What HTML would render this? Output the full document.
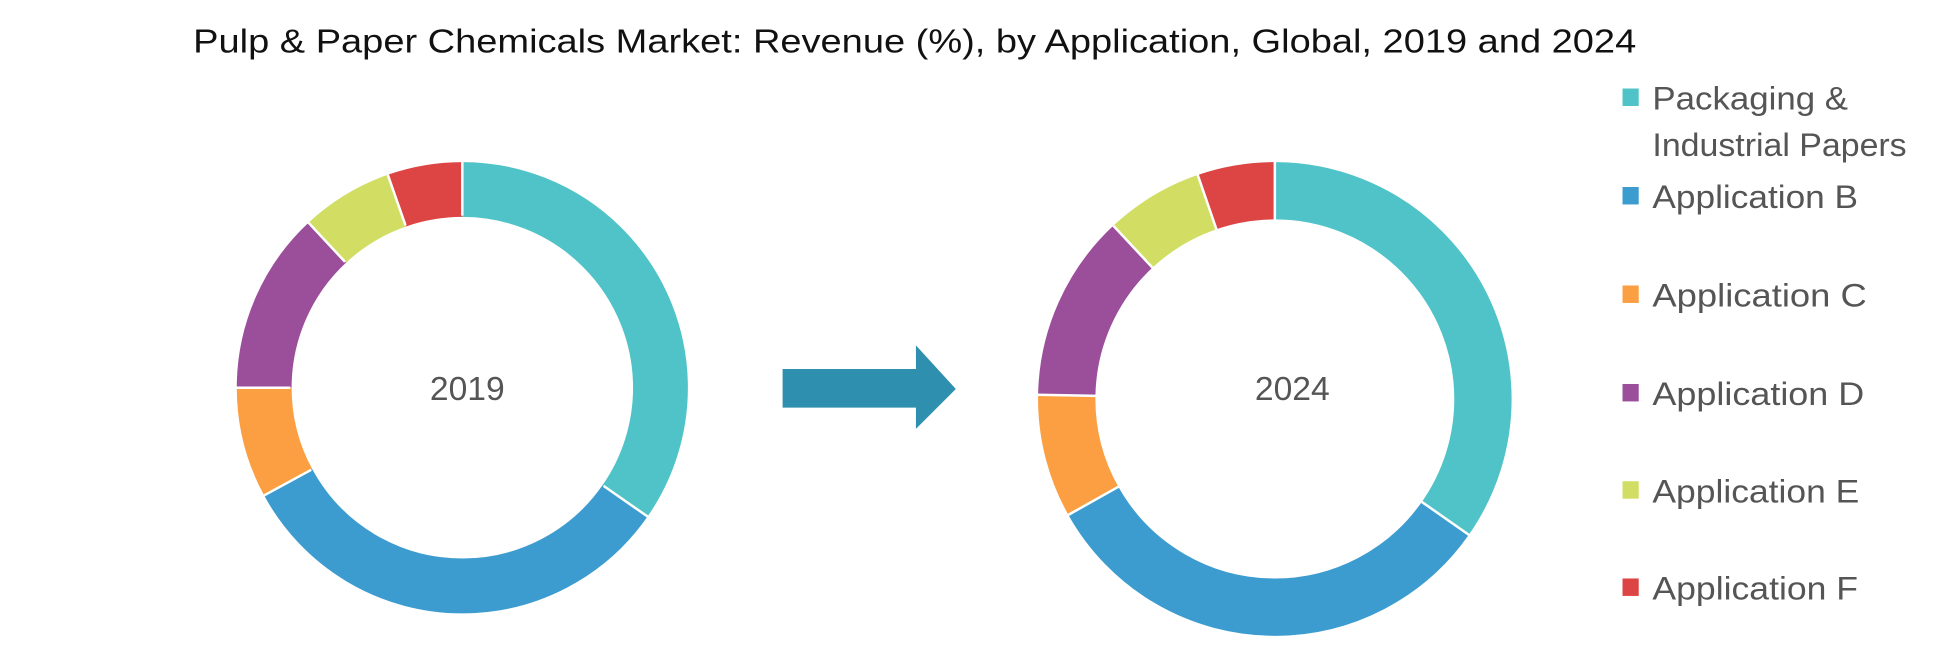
<!DOCTYPE html>
<html><head><meta charset="utf-8"><style>
html,body{margin:0;padding:0;background:#fff;}
svg{display:block}
text{font-family:"Liberation Sans",sans-serif;}
</style></head><body>
<svg width="1954" height="662" viewBox="0 0 1568 531" preserveAspectRatio="none" xmlns="http://www.w3.org/2000/svg">
<text x="155" y="42" font-size="27" fill="#111" textLength="1158" lengthAdjust="spacingAndGlyphs">Pulp &amp; Paper Chemicals Market: Revenue (%), by Application, Global, 2019 and 2024</text>

<g transform="rotate(-90 371 311)" fill="none" stroke-width="44">
<circle cx="371" cy="311" r="159" stroke="#50c3c8" stroke-dasharray="346.3 2000" stroke-dashoffset="0"/>
<circle cx="371" cy="311" r="159" stroke="#3d9ccf" stroke-dasharray="323.8 2000" stroke-dashoffset="-346.3"/>
<circle cx="371" cy="311" r="159" stroke="#fb9f42" stroke-dasharray="79.1 2000" stroke-dashoffset="-670.2"/>
<circle cx="371" cy="311" r="159" stroke="#9b4f9b" stroke-dasharray="130.4 2000" stroke-dashoffset="-749.3"/>
<circle cx="371" cy="311" r="159" stroke="#d1de63" stroke-dasharray="65.8 2000" stroke-dashoffset="-879.7"/>
<circle cx="371" cy="311" r="159" stroke="#dd4444" stroke-dasharray="53.6 2000" stroke-dashoffset="-945.5"/>
</g>
<g stroke="#fff" stroke-width="2">
<line x1="371" y1="173" x2="371" y2="127" transform="rotate(0 371 311)"/>
<line x1="371" y1="173" x2="371" y2="127" transform="rotate(124.8 371 311)"/>
<line x1="371" y1="173" x2="371" y2="127" transform="rotate(241.5 371 311)"/>
<line x1="371" y1="173" x2="371" y2="127" transform="rotate(270 371 311)"/>
<line x1="371" y1="173" x2="371" y2="127" transform="rotate(317 371 311)"/>
<line x1="371" y1="173" x2="371" y2="127" transform="rotate(340.7 371 311)"/>
</g>
<text x="375" y="321" font-size="27" fill="#555" text-anchor="middle">2019</text>

<g transform="rotate(-90 1023 320)" fill="none" stroke-width="46">
<circle cx="1023" cy="320" r="167" stroke="#50c3c8" stroke-dasharray="364.3 2000" stroke-dashoffset="0"/>
<circle cx="1023" cy="320" r="167" stroke="#3d9ccf" stroke-dasharray="337.2 2000" stroke-dashoffset="-364.3"/>
<circle cx="1023" cy="320" r="167" stroke="#fb9f42" stroke-dasharray="88.3 2000" stroke-dashoffset="-701.6"/>
<circle cx="1023" cy="320" r="167" stroke="#9b4f9b" stroke-dasharray="134.1 2000" stroke-dashoffset="-789.9"/>
<circle cx="1023" cy="320" r="167" stroke="#d1de63" stroke-dasharray="70 2000" stroke-dashoffset="-924"/>
<circle cx="1023" cy="320" r="167" stroke="#dd4444" stroke-dasharray="55.4 2000" stroke-dashoffset="-993.9"/>
</g>
<g stroke="#fff" stroke-width="2">
<line x1="1023" y1="177" x2="1023" y2="129" transform="rotate(0 1023 320)"/>
<line x1="1023" y1="177" x2="1023" y2="129" transform="rotate(125 1023 320)"/>
<line x1="1023" y1="177" x2="1023" y2="129" transform="rotate(240.7 1023 320)"/>
<line x1="1023" y1="177" x2="1023" y2="129" transform="rotate(271 1023 320)"/>
<line x1="1023" y1="177" x2="1023" y2="129" transform="rotate(317 1023 320)"/>
<line x1="1023" y1="177" x2="1023" y2="129" transform="rotate(341 1023 320)"/>
</g>
<text x="1037" y="321" font-size="27" fill="#555" text-anchor="middle">2024</text>

<polygon points="628,296 735,296 735,277 767,312 735,344 735,327 628,327" fill="#2e8fae"/>

<g font-size="26" fill="#555">
<rect x="1302" y="71" width="13" height="14" fill="#50c3c8"/>
<text x="1326" y="88" textLength="157" lengthAdjust="spacingAndGlyphs">Packaging &amp;</text>
<text x="1326" y="125" textLength="204" lengthAdjust="spacingAndGlyphs">Industrial Papers</text>
<rect x="1302" y="150" width="13" height="14" fill="#3d9ccf"/>
<text x="1326" y="167" textLength="165" lengthAdjust="spacingAndGlyphs">Application B</text>
<rect x="1302" y="229" width="13" height="14" fill="#fb9f42"/>
<text x="1326" y="246" textLength="172" lengthAdjust="spacingAndGlyphs">Application C</text>
<rect x="1302" y="308" width="13" height="14" fill="#9b4f9b"/>
<text x="1326" y="325" textLength="170" lengthAdjust="spacingAndGlyphs">Application D</text>
<rect x="1302" y="386" width="13" height="14" fill="#d1de63"/>
<text x="1326" y="403" textLength="166" lengthAdjust="spacingAndGlyphs">Application E</text>
<rect x="1302" y="464" width="13" height="14" fill="#dd4444"/>
<text x="1326" y="481" textLength="165" lengthAdjust="spacingAndGlyphs">Application F</text>
</g>
</svg>
</body></html>
